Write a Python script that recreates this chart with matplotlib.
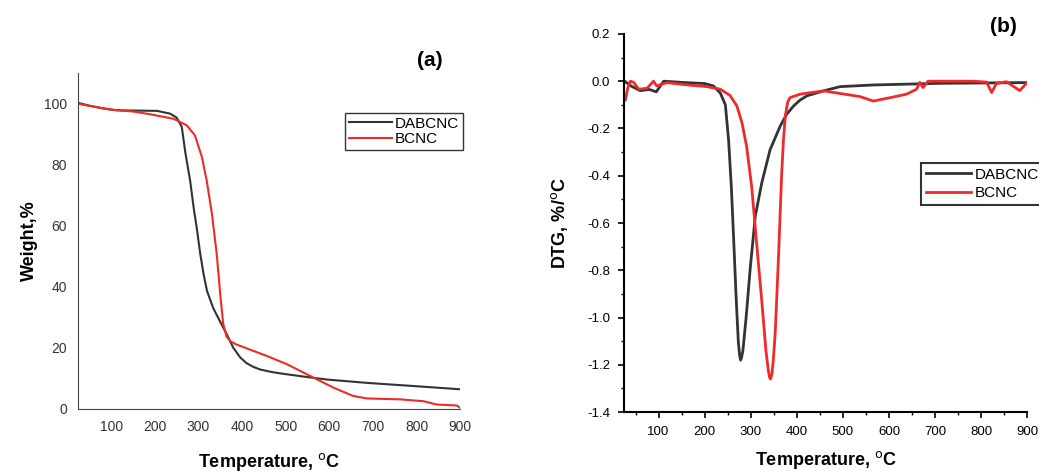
import matplotlib.pyplot as plt
from matplotlib.ticker import MultipleLocator

plt.rcParams['font.family'] = ['Liberation Sans', 'DejaVu Sans']

# TGA curves (panel a)
tga_dab_t = [25, 50, 82, 113, 150, 205, 235, 250, 255, 262, 270, 281, 290, 296, 304, 312,
             320, 334, 350, 365, 380, 396, 410, 425, 441, 470, 503, 550, 594, 686, 800, 900]
tga_dab_w = [100.2, 99.3, 98.4, 97.8, 97.7, 97.6, 96.7, 95.4, 94.2, 92.3, 84.0, 74.8,
             65.0, 59.5, 51.0, 44.0, 38.5, 33.0, 28.5, 24.4, 20.0, 16.8, 15.0, 13.8,
             12.9, 12.0, 11.3, 10.4, 9.6, 8.5, 7.4, 6.4]
tga_bc_t = [25, 29, 98, 150, 189, 243, 273, 292, 308, 319, 331, 342, 350, 357, 365, 373,
            385, 396, 457, 503, 564, 610, 655, 686, 762, 816, 846, 892, 900]
tga_bc_w = [100.0, 99.8, 98.0, 97.4, 96.5, 95.0, 92.9, 89.6, 82.5, 74.8, 63.9, 50.7,
            37.6, 27.7, 23.5, 22.2, 21.2, 20.6, 17.3, 14.6, 10.2, 6.9, 4.2, 3.4, 3.1,
            2.5, 1.4, 1.1, 0.3]

# DTG curves (panel b)
dtg_dab_t = [26, 40, 60, 80, 95, 111, 150, 200, 219, 234, 245, 252, 258, 263, 268, 273,
             276, 278, 280, 283, 290, 299, 310, 324, 342, 364, 378, 393, 407, 422, 458,
             494, 566, 711, 898]
dtg_dab_v = [0.0, -0.02, -0.04, -0.035, -0.045, 0.0, -0.005, -0.01, -0.02, -0.05, -0.10,
             -0.25, -0.45, -0.67, -0.90, -1.10, -1.16, -1.18, -1.17, -1.14, -1.00, -0.79,
             -0.57, -0.43, -0.29, -0.19, -0.14, -0.105, -0.08, -0.062, -0.041, -0.023,
             -0.016, -0.009, -0.006]
dtg_bc_t = [26, 28, 33, 39, 46, 57, 75, 89, 96, 118, 169, 205, 234, 255, 270, 281, 291,
            302, 313, 324, 333, 338, 341, 343, 346, 349, 353, 360, 367, 371, 375, 380,
            385, 407, 458, 494, 537, 566, 602, 638, 660, 667, 674, 685, 783, 812, 823,
            833, 855, 884, 898]
dtg_bc_v = [-0.07, -0.08, -0.03, 0.0, -0.005, -0.034, -0.03, 0.0, -0.02, -0.006, -0.017,
            -0.023, -0.034, -0.06, -0.105, -0.176, -0.275, -0.445, -0.69, -0.93, -1.14,
            -1.22, -1.254, -1.26, -1.24, -1.18, -1.07, -0.76, -0.40, -0.25, -0.148,
            -0.09, -0.07, -0.055, -0.041, -0.052, -0.065, -0.084, -0.07, -0.055, -0.034,
            -0.005, -0.027, 0.0, 0.0, -0.004, -0.048, -0.01, -0.002, -0.04, -0.01]

black = '#333333'
red = '#ee2a2a'

fig = plt.figure(figsize=(10.39, 4.71), dpi=100)

# ---- panel (a)
ax1 = fig.add_axes([0.075, 0.132, 0.368, 0.713])
ax1.plot(tga_dab_t, tga_dab_w, color=black, lw=1.5, label='DABCNC')
ax1.plot(tga_bc_t, tga_bc_w, color=red, lw=1.5, label='BCNC')
ax1.set_xlim(24, 900)
ax1.set_ylim(0, 110)
ax1.set_xticks(range(100, 1000, 100))
ax1.set_yticks(range(0, 101, 20))
ax1.tick_params(length=0, labelsize=10, labelcolor='#333333', pad=8)
for s in ['top', 'right']:
    ax1.spines[s].set_visible(False)
for s in ['left', 'bottom']:
    ax1.spines[s].set_color('#444444')
ax1.set_xlabel('Temperature, $^{\\mathrm{o}}$C', fontsize=13, fontweight='bold', labelpad=12)
ax1.set_ylabel('Weight,%', fontsize=13, fontweight='bold', labelpad=4)
fig.text(430 / 1039, 1 - 60 / 471, '(a)', fontsize=15, fontweight='bold', ha='center', va='center')
leg1 = ax1.legend(loc='upper left', bbox_to_anchor=(345 / 1039, 1 - 113 / 471),
                  bbox_transform=fig.transFigure, frameon=True, fancybox=False,
                  edgecolor='black', fontsize=11, handlelength=2.8, handletextpad=0.2,
                  borderpad=0.25, labelspacing=0.1, borderaxespad=0)
leg1.get_frame().set_linewidth(1.0)

# ---- panel (b)
ax2 = fig.add_axes([0.6006, 0.125, 0.388, 0.803])
ax2.plot(dtg_dab_t, dtg_dab_v, color=black, lw=2, label='DABCNC')
ax2.plot(dtg_bc_t, dtg_bc_v, color=red, lw=2, label='BCNC')
ax2.set_xlim(25, 900)
ax2.set_ylim(-1.4, 0.2)
ax2.set_xticks(range(100, 1000, 100))
ax2.set_yticks([0.2, 0.0, -0.2, -0.4, -0.6, -0.8, -1.0, -1.2, -1.4])
ax2.set_yticklabels(['0.2', '0.0', '-0.2', '-0.4', '-0.6', '-0.8', '-1.0', '-1.2', '-1.4'])
ax2.xaxis.set_minor_locator(MultipleLocator(50))
ax2.yaxis.set_minor_locator(MultipleLocator(0.1))
ax2.tick_params(which='major', direction='out', length=4, width=1.2, labelsize=9.5, pad=6)
ax2.tick_params(which='minor', direction='out', length=2.5, width=1)
for s in ['top', 'right']:
    ax2.spines[s].set_visible(False)
for s in ['left', 'bottom']:
    ax2.spines[s].set_linewidth(1.5)
ax2.set_xlabel('Temperature, $^{\\mathrm{o}}$C', fontsize=13, fontweight='bold', labelpad=8)
ax2.set_ylabel('DTG, %/$^{\\mathrm{o}}$C', fontsize=13, fontweight='bold', labelpad=12)
fig.text(1003 / 1039, 1 - 27 / 471, '(b)', fontsize=15, fontweight='bold', ha='center', va='center')
leg2 = ax2.legend(loc='upper left', bbox_to_anchor=(921 / 1039, 1 - 163 / 471),
                  bbox_transform=fig.transFigure, frameon=True, fancybox=False,
                  edgecolor='black', fontsize=11, handlelength=3.0, handletextpad=0.2,
                  borderpad=0.3, labelspacing=0.3, borderaxespad=0)
leg2.get_frame().set_linewidth(1.5)

fig.savefig('out.png', dpi=100)
